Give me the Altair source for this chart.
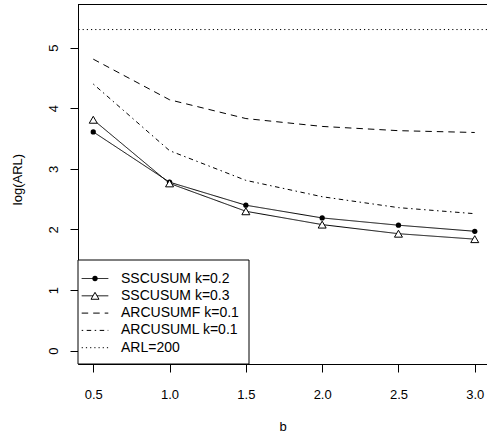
import math
import altair as alt
import pandas as pd

# ---- data ----
b_values = [0.5, 1.0, 1.5, 2.0, 2.5, 3.0]
sscusum_k02 = [3.61, 2.78, 2.40, 2.19, 2.07, 1.97]
sscusum_k03 = [3.81, 2.76, 2.30, 2.08, 1.93, 1.84]
arcusumf_k01 = [4.81, 4.14, 3.83, 3.70, 3.63, 3.60]
arcusuml_k01 = [4.40, 3.30, 2.81, 2.54, 2.36, 2.26]
arl_200 = math.log(200)

series_names = ["SSCUSUM k=0.2", "SSCUSUM k=0.3", "ARCUSUMF k=0.1",
                "ARCUSUML k=0.1", "ARL=200"]
x_ticks = [0.5, 1.0, 1.5, 2.0, 2.5, 3.0]
y_ticks = [0, 1, 2, 3, 4, 5]

# ---- styles ----
FONT = "Liberation Sans"
dash_styles = {
    "SSCUSUM k=0.2": [1, 0],
    "SSCUSUM k=0.3": [1, 0],
    "ARCUSUMF k=0.1": [6.5, 5],
    "ARCUSUML k=0.1": [1.5, 3.5, 4.5, 3.5],
    "ARL=200": [1.2, 3],
}

rows = []
for name, vals in zip(series_names[:4], [sscusum_k02, sscusum_k03, arcusumf_k01, arcusuml_k01]):
    for b, v in zip(b_values, vals):
        rows.append({"series": name, "b": b, "logARL": v})
df = pd.DataFrame(rows)

xscale = alt.Scale(domain=[0.4, 3.0802], nice=False, zero=False)
yscale = alt.Scale(domain=[-0.22, 5.72], nice=False, zero=False)

xaxis = alt.Axis(values=x_ticks, format=".1f", grid=False, domainColor="black",
                 tickColor="black", tickSize=8, labelFont=FONT, labelFontSize=13,
                 labelColor="black", labelPadding=16, labelFlush=False,
                 title="b", titleFont=FONT, titleFontSize=13, titleFontWeight="normal",
                 titleColor="black", titleY=62.5, titleBaseline="middle")
yaxis = alt.Axis(values=y_ticks, format="d", grid=False, domainColor="black",
                 tickColor="black", tickSize=8, labelFont=FONT, labelFontSize=13,
                 labelColor="black", labelAngle=270, labelAlign="center",
                 labelBaseline="middle", labelPadding=17, labelFlush=False,
                 title="log(ARL)", titleFont=FONT, titleFontSize=13,
                 titleFontWeight="normal", titleColor="black", titleX=-61,
                 titleY=175, titleAngle=270, titleBaseline="middle", titleAlign="center")

lines = alt.Chart(df).mark_line(color="black", strokeWidth=1).encode(
    x=alt.X("b:Q", scale=xscale, axis=xaxis),
    y=alt.Y("logARL:Q", scale=yscale, axis=yaxis),
    detail="series:N",
    strokeDash=alt.StrokeDash("series:N",
                              scale=alt.Scale(domain=series_names[:4],
                                              range=[dash_styles[n] for n in series_names[:4]]),
                              legend=None),
)

circles = alt.Chart(df[df.series == "SSCUSUM k=0.2"]).mark_point(
    shape="circle", filled=True, color="black", size=28, opacity=1
).encode(x=alt.X("b:Q", scale=xscale), y=alt.Y("logARL:Q", scale=yscale))

triangles = alt.Chart(df[df.series == "SSCUSUM k=0.3"]).mark_point(
    shape="triangle-up", filled=True, fill="white", stroke="black", strokeWidth=1,
    size=64, opacity=1
).encode(x=alt.X("b:Q", scale=xscale), y=alt.Y("logARL:Q", scale=yscale))

arl_rule = alt.Chart(pd.DataFrame({"arl": [arl_200]})).mark_rule(
    color="black", strokeWidth=1, strokeDash=dash_styles["ARL=200"]
).encode(y=alt.Y("arl:Q", scale=yscale))

top_border = alt.Chart(pd.DataFrame({"a": [0]})).mark_rule(color="black", strokeWidth=1).encode(
    y=alt.value(0.5))

# ---- legend (box drawn in the lower-left corner, like R's legend("bottomleft")) ----
legend_box = alt.Chart(pd.DataFrame({"a": [0]})).mark_rect(
    fill="white", stroke="black", strokeWidth=1
).encode(x=alt.value(0), x2=alt.value(171), y=alt.value(256), y2=alt.value(360))

legend_layers = [legend_box]
for i, name in enumerate(series_names):
    yy = 274.5 + i * 17.3
    one = pd.DataFrame({"name": [name]})
    legend_layers.append(
        alt.Chart(one).mark_rule(color="black", strokeWidth=1, strokeDash=dash_styles[name]).encode(
            x=alt.value(3.7), x2=alt.value(30.3), y=alt.value(yy))
    )
    legend_layers.append(
        alt.Chart(one).mark_text(align="left", baseline="middle", font=FONT, fontSize=14,
                                 color="black").encode(
            x=alt.value(43), y=alt.value(yy), text="name:N")
    )
legend_layers.append(
    alt.Chart(pd.DataFrame({"a": [0]})).mark_point(shape="circle", filled=True, color="black",
                                                   size=28, opacity=1).encode(
        x=alt.value(17), y=alt.value(274.5))
)
legend_layers.append(
    alt.Chart(pd.DataFrame({"a": [0]})).mark_point(shape="triangle-up", filled=True, fill="white",
                                                   stroke="black", strokeWidth=1, size=64,
                                                   opacity=1).encode(
        x=alt.value(17), y=alt.value(274.5 + 17.3))
)

chart = alt.layer(arl_rule, lines, circles, triangles, top_border, *legend_layers).properties(
    width=409, height=360,
    padding={"left": 78, "top": 4, "right": 0, "bottom": 74},
    autosize=alt.AutoSizeParams(type="none"),
    background="white",
).configure_view(stroke=None)

chart.save("out.html", embed_options={"renderer": "svg", "actions": False})
